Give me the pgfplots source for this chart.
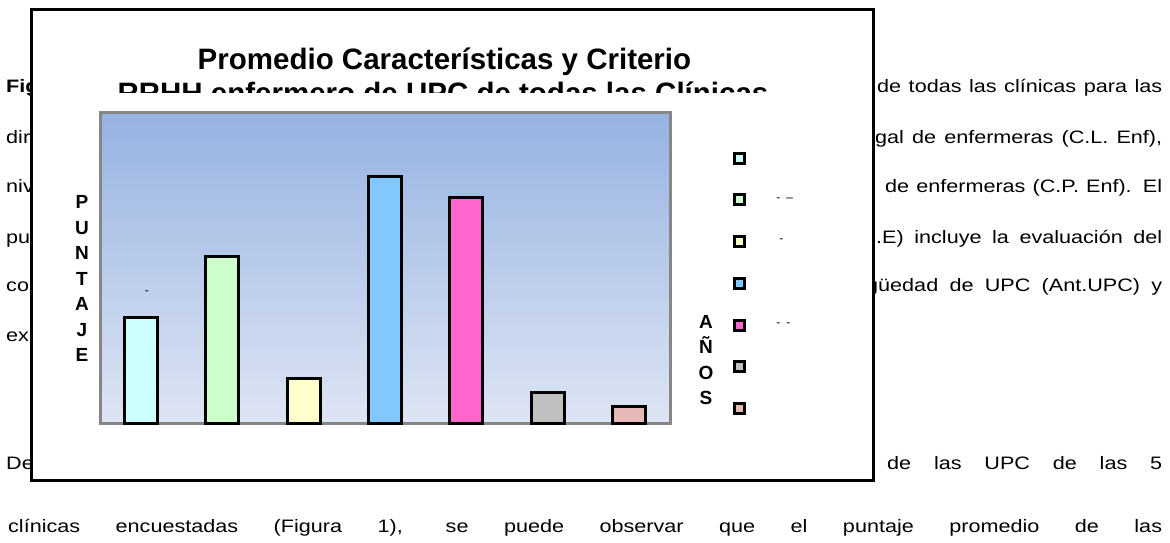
\documentclass[border=0pt]{standalone}
\usepackage{pgfplots}
\pgfplotsset{compat=1.18}
\usepackage{fontspec}
\setmainfont{Liberation Sans}
\usepackage{graphicx}

\definecolor{bcyan}{HTML}{CCFFFF}
\definecolor{bgreen}{HTML}{CCFFCC}
\definecolor{byellow}{HTML}{FFFFCC}
\definecolor{bblue}{HTML}{80C8FF}
\definecolor{bpink}{HTML}{FF66CC}
\definecolor{bgray}{HTML}{C0C0C0}
\definecolor{brose}{HTML}{E6B9B8}
\definecolor{frgray}{HTML}{868686}
\definecolor{bgtop}{HTML}{96B2E1}
\definecolor{bgbot}{HTML}{DEE5F4}

\newcommand{\body}{\fontsize{18}{20}\selectfont}
\newcommand{\jl}[2]{\scalebox{1.2}[1]{\makebox[\dimexpr #1pt*10/12\relax][s]{#2}}}
\newcommand{\wl}[1]{\scalebox{1.2}[1]{#1}}

\pgfplotsset{sq/.style={legend image code/.code={\draw[##1, draw=black, line width=3pt] (0pt,-5pt) rectangle (10pt,5pt);}}}

\begin{document}
\begin{tikzpicture}[x=1pt,y=1pt]
\path[use as bounding box] (0,0) rectangle (1170,543);

% surrounding document text
\begin{scope}[every node/.style={anchor=base west, inner sep=0pt}]
\node at (877,450.5) {\body\jl{285}{de todas las clínicas para las}};
\node at (875,399.5) {\body\jl{287}{gal de enfermeras (C.L. Enf),}};
\node at (885,350.5) {\body\jl{277}{de enfermeras (C.P. Enf). El}};
\node at (876,299.5) {\body\jl{286}{.E) incluye la evaluación del}};
\node at (866,251.5) {\body\jl{296}{güedad de UPC (Ant.UPC) y}};
\node at (887,73.5) {\body\jl{275}{de las UPC de las 5}};
\node at (8,10.5) {\body\jl{1154}{clínicas encuestadas (Figura 1), se puede observar que el puntaje promedio de las}};
\node at (6,450.5) {\body\bfseries\wl{Figura 1.}};
\node at (6,399.5) {\body\wl{direcciones}};
\node at (6,350.5) {\body\wl{nivel}};
\node at (6,299.5) {\body\wl{puntaje}};
\node at (6,251.5) {\body\wl{conocimiento}};
\node at (6,201.5) {\body\wl{experiencia}};
\node at (6,73.5) {\body\wl{De acuerdo}};
\end{scope}

% chart frame
\draw[line width=3pt, fill=white] (31,533) rectangle (873,62);

% title
\node[font=\fontsize{29.5}{33}\selectfont\bfseries, anchor=base, inner sep=0pt] at (444.5,473) {Promedio Características y Criterio};
\node[font=\fontsize{29.5}{33}\selectfont\bfseries, anchor=base, inner sep=0pt] at (443,439) {RRHH enfermero de UPC de todas las Clínicas};
\fill[white] (34,450) rectangle (870,428);

% stacked axis labels
\node[font=\fontsize{19}{25.5}\selectfont\bfseries, align=center, inner sep=0pt] at (82,264.5) {P\\U\\N\\T\\A\\J\\E};
\node[font=\fontsize{19}{25.3}\selectfont\bfseries, align=center, inner sep=0pt] at (706,183) {A\\Ñ\\O\\S};

\begin{axis}[
  at={(100pt,119pt)}, anchor=south west,
  scale only axis, width=570pt, height=311pt,
  xmin=0.5, xmax=7.5, ymin=0, ymax=10,
  xtick=\empty, ytick=\empty,
  clip=false,
  axis line style={draw=frgray, line width=3pt},
  axis background/.style={top color=bgtop, bottom color=bgbot},
  legend style={at={(axis description cs:1.111,0.876)}, anchor=north west,
    draw=none, fill=none, inner sep=0pt, row sep=28.7pt,
    font=\fontsize{12}{12}\selectfont,
    nodes={inner sep=0pt}},
  legend cell align=left,
]
\addplot[ybar, bar shift=0pt, bar width=33pt, fill=bcyan, draw=black, line width=3pt, sq] coordinates {(1,3.44)};
\addplot[ybar, bar shift=0pt, bar width=33pt, fill=bgreen, draw=black, line width=3pt, sq] coordinates {(2,5.40)};
\addplot[ybar, bar shift=0pt, bar width=33pt, fill=byellow, draw=black, line width=3pt, sq] coordinates {(3,1.45)};
\addplot[ybar, bar shift=0pt, bar width=33pt, fill=bblue, draw=black, line width=3pt, sq] coordinates {(4,7.97)};
\addplot[ybar, bar shift=0pt, bar width=33pt, fill=bpink, draw=black, line width=3pt, sq] coordinates {(5,7.27)};
\addplot[ybar, bar shift=0pt, bar width=33pt, fill=bgray, draw=black, line width=3pt, sq] coordinates {(6,1.00)};
\addplot[ybar, bar shift=0pt, bar width=33pt, fill=brose, draw=black, line width=3pt, sq] coordinates {(7,0.55)};
\legend{\mbox{},\hspace*{30pt}-\hspace{6pt}--,\hspace*{33pt}-,\mbox{},\hspace*{30pt}-\hspace{6pt}-,\mbox{},\mbox{}}
\node[font=\fontsize{12}{12}\selectfont] at (axis cs:1.077,4.21) {-};
\end{axis}
\end{tikzpicture}
\end{document}
